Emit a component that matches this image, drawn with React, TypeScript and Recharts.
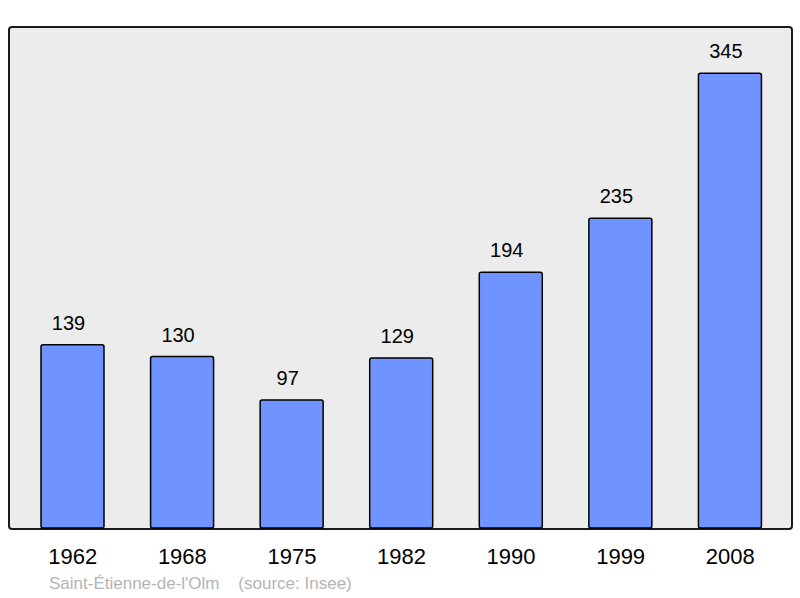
import { Bar, BarChart, LabelList, XAxis, YAxis } from "recharts";

// census years and population
const years = ["1962", "1968", "1975", "1982", "1990", "1999", "2008"];
const population = [139, 130, 97, 129, 194, 235, 345];

const data = years.map((year, i) => ({ year, population: population[i] }));

const FONT = "'Liberation Sans', Arial, sans-serif";

const App = () => {
  return (
    <div
      style={{
        position: "absolute",
        left: 0,
        top: 0,
        width: 800,
        height: 598,
        background: "#fff",
        fontFamily: FONT,
      }}
    >
      {/* plot frame */}
      <div
        style={{
          position: "absolute",
          left: 8,
          top: 26,
          width: 781,
          height: 500,
          border: "2px solid #1a1a1a",
          borderRadius: 4,
          background: "#ececec",
        }}
      />
      <div style={{ position: "absolute", left: 0, top: 0 }}>
        <BarChart
          width={800}
          height={598}
          data={data}
          margin={{ top: 27, right: 9, bottom: 30, left: 9 }}
        >
          <XAxis
            dataKey="year"
            axisLine={false}
            tickLine={false}
            tickSize={0}
            tickMargin={20}
            height={40}
            padding={{ left: 9, right: 6 }}
            tick={{ fill: "#000", fontSize: 22, fontFamily: FONT }}
          />
          <YAxis hide domain={[0, 380]} />
          <Bar
            dataKey="population"
            fill="#7094ff"
            stroke="#000"
            strokeWidth={1.5}
            barSize={63}
            radius={2}
            isAnimationActive={false}
          >
            <LabelList
              dataKey="population"
              position="top"
              offset={15}
              dx={-4}
              fill="#000"
              fontSize={20}
              fontFamily={FONT}
            />
          </Bar>
        </BarChart>
      </div>
      <div
        style={{
          position: "absolute",
          left: 49,
          top: 574,
          fontSize: 17,
          color: "#b4b4b4",
          whiteSpace: "pre",
        }}
      >
        {"Saint-Étienne-de-l'Olm    (source: Insee)"}
      </div>
    </div>
  );
};

export default App;
